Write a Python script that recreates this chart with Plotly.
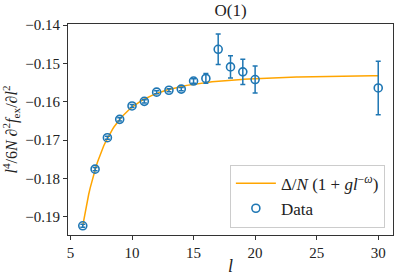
import plotly.graph_objects as go

# Data
l_vals = [6, 7, 8, 9, 10, 11, 12, 13, 14, 15, 16, 17, 18, 19, 20, 30]
y_vals = [-0.1924, -0.1776, -0.1694, -0.1646, -0.1611, -0.1599, -0.1575, -0.1570,
          -0.1567, -0.1546, -0.1539, -0.1463, -0.1509, -0.1522, -0.1542, -0.1564]
y_err = [0.0004, 0.0004, 0.0004, 0.0004, 0.0004, 0.0004, 0.0004, 0.0004,
         0.0004, 0.0006, 0.0013, 0.0040, 0.0029, 0.0033, 0.0035, 0.0070]

# Fit parameters: Delta/N (1 + g l^-omega)
delta_over_N = -0.1529
g_fit = 55.7
omega_fit = 3.0
fit_l_min, fit_l_max, fit_n = 6.0, 30.0, 200

x_ticks = [5, 10, 15, 20, 25, 30]
y_ticks = [-0.19, -0.18, -0.17, -0.16, -0.15, -0.14]
y_tick_text = ["\u22120.19", "\u22120.18", "\u22120.17", "\u22120.16", "\u22120.15", "\u22120.14"]

fit_x = [fit_l_min + (fit_l_max - fit_l_min) * i / (fit_n - 1) for i in range(fit_n)]
fit_y = [delta_over_N * (1 + g_fit * x ** (-omega_fit)) for x in fit_x]

FONT = "Liberation Serif"
fig = go.Figure()
fig.add_trace(go.Scatter(
    x=fit_x, y=fit_y, mode="lines",
    line=dict(color="orange", width=1.5),
    name="\u0394/<i>N</i> (1 + <i>gl</i><sup>\u2212<i>\u03c9</i></sup>)",
))
fig.add_trace(go.Scatter(
    x=l_vals, y=y_vals, mode="markers",
    marker=dict(symbol="circle-open", size=8, color="#1f77b4", line=dict(width=1.6)),
    error_y=dict(type="data", array=y_err, color="#1f77b4", thickness=1.5, width=2.5),
    name="Data",
))

axis_common = dict(
    showline=True, linecolor="#333333", linewidth=1, mirror=True,
    ticks="outside", ticklen=4, tickcolor="#333333", showgrid=False, zeroline=False,
    tickfont=dict(family=FONT, size=15, color="#222222"), automargin=False,
)
fig.update_layout(
    width=398, height=276,
    margin=dict(l=68, r=5, t=24, b=41),
    paper_bgcolor="white", plot_bgcolor="white",
    font=dict(family=FONT, color="#222222"),
    title=dict(text="O(1)", x=0.5, xanchor="center", xref="paper",
               y=1.0, yref="container", yanchor="top", pad=dict(t=4),
               font=dict(family=FONT, size=17, color="#222222")),
    xaxis=dict(range=[4.8, 31.2], tickvals=x_ticks,
               title=dict(text="<i>l</i>", font=dict(family=FONT, size=18), standoff=2),
               **axis_common),
    yaxis=dict(range=[-0.1948, -0.1397], tickvals=y_ticks, ticktext=y_tick_text,
               title=dict(text="<i>l</i><sup>4</sup>/6<i>N</i> \u2202<sup>2</sup><i>f</i><sub>ex</sub>/\u2202<i>l</i><sup>2</sup>",
                          font=dict(family=FONT, size=16), standoff=6),
               **axis_common),
    legend=dict(x=0.975, y=0.035, xanchor="right", yanchor="bottom",
                bgcolor="rgba(255,255,255,0.8)", bordercolor="#cccccc", borderwidth=1,
                font=dict(family=FONT, size=17, color="#222222"), tracegroupgap=0,
                itemwidth=40),
    showlegend=True,
)
fig.write_html("out.html", config={"displayModeBar": False},
               post_script="document.body.style.margin='0px';document.body.style.overflow='hidden';")
